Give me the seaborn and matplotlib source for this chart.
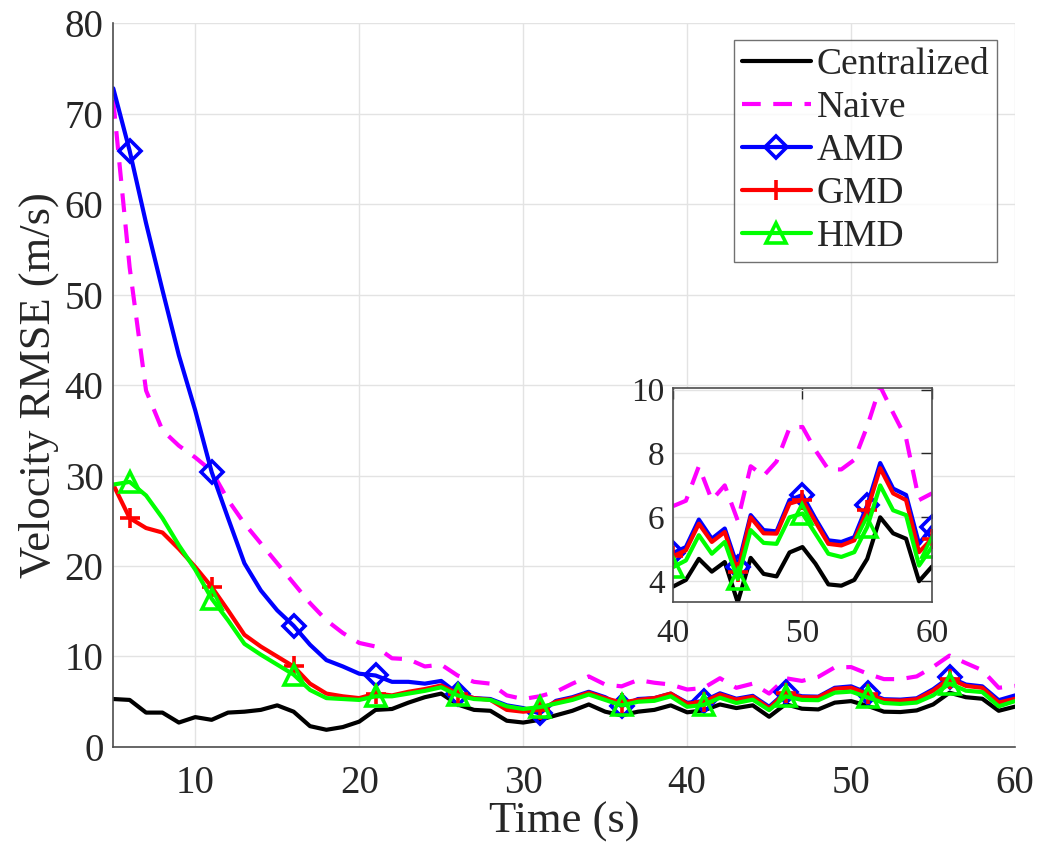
import numpy as np
import pandas as pd
import matplotlib
matplotlib.use('Agg')
import matplotlib.pyplot as plt
import seaborn as sns

# time axis (s)
time_s = list(range(5, 61))

centralized = [5.3, 5.2, 3.8, 3.8, 2.7, 3.3, 3.0, 3.8, 3.9, 4.1, 4.6, 3.9, 2.3, 1.9, 2.2,
               2.8, 4.1, 4.2, 4.9, 5.5, 5.9, 4.7, 4.1, 4.0, 2.9, 2.7, 3.0, 3.5, 4.0, 4.7,
               3.9, 3.5, 3.9, 4.1, 4.6,
               3.83, 4.04, 4.7, 4.3, 4.6, 3.34, 4.73, 4.23, 4.15, 4.9, 5.07, 4.55, 3.9,
               3.86, 4.04, 4.7, 6.0, 5.5, 5.33, 4.0, 4.46]
naive = [71.5, 53.0, 39.4, 35.0, 33.3, 32.0, 30.5, 27.3, 24.7, 22.5, 20.3, 18.1, 15.9, 14.0,
         12.6, 11.5, 11.1, 9.8, 9.7, 8.9, 9.1, 7.9, 7.2, 7.0, 5.7, 5.3, 5.6, 6.1, 7.0, 7.8,
         6.9, 6.7, 7.4, 7.1, 6.9,
         6.35, 6.52, 7.6, 6.54, 7.0, 5.9, 7.6, 7.3, 7.75, 8.8, 8.83, 8.1, 7.5, 7.5, 7.8,
         8.85, 10.1, 9.27, 8.48, 6.54, 6.75]
amd = [72.8, 65.9, 57.9, 50.5, 43.3, 37.2, 30.4, 25.3, 20.3, 17.3, 15.1, 13.4, 11.3, 9.6,
       8.9, 8.1, 7.9, 7.2, 7.2, 7.0, 7.3, 5.9, 5.4, 5.3, 4.6, 4.3, 3.7, 5.1, 5.5, 6.1, 5.5,
       4.5, 5.3, 5.4, 5.9,
       4.88, 5.07, 5.93, 5.33, 5.65, 4.44, 6.07, 5.6, 5.56, 6.54, 6.7, 5.96, 5.28, 5.23,
       5.38, 6.38, 7.7, 6.9, 6.7, 5.17, 5.7]
gmd = [29.0, 25.3, 24.2, 23.7, 21.9, 19.9, 17.7, 15.1, 12.4, 11.1, 10.0, 8.9, 7.0, 5.9, 5.6,
       5.4, 5.9, 5.7, 6.1, 6.4, 6.8, 5.9, 5.4, 5.2, 4.1, 3.9, 4.1, 5.0, 5.4, 6.0, 5.4, 4.9,
       5.2, 5.4, 5.9,
       4.78, 4.97, 5.8, 5.23, 5.54, 4.28, 6.0, 5.5, 5.49, 6.43, 6.55, 5.86, 5.17, 5.12,
       5.28, 6.22, 7.54, 6.75, 6.54, 4.91, 5.33]
hmd = [29.0, 29.3, 27.8, 25.3, 22.3, 19.6, 16.4, 14.0, 11.4, 10.2, 9.1, 8.0, 6.3, 5.4, 5.3,
       5.2, 5.6, 5.6, 5.9, 6.2, 6.6, 5.7, 5.3, 5.2, 4.5, 4.2, 4.4, 4.8, 5.2, 5.8, 5.2, 4.6,
       5.0, 5.1, 5.6,
       4.44, 4.65, 5.44, 4.86, 5.23, 4.07, 5.6, 5.2, 5.17, 6.0, 6.12, 5.49, 4.86, 4.76,
       4.91, 5.7, 7.0, 6.22, 6.07, 4.49, 5.07]

labels = ['Centralized', 'Naive', 'AMD', 'GMD', 'HMD']

df = pd.DataFrame({'t': time_s, 'Centralized': centralized, 'Naive': naive,
                   'AMD': amd, 'GMD': gmd, 'HMD': hmd})

styles = {
    'Centralized': dict(color='black', linestyle='-', marker=None),
    'Naive': dict(color='#ff00ff', linestyle=(0, (4.5, 3)), marker=None),
    'AMD': dict(color='#0000ff', linestyle='-', marker='D'),
    'GMD': dict(color='#ff0000', linestyle='-', marker='+'),
    'HMD': dict(color='#00ff00', linestyle='-', marker='^'),
}
msize = {'D': 11, '+': 15, '^': 15}

sns.set_style('white')
plt.rcParams['font.family'] = ['Liberation Serif', 'DejaVu Serif']

fig = plt.figure(figsize=(10.39, 8.58), dpi=100)
ax = fig.add_axes([0.109, 0.1294, 0.868, 0.8436])
axin = fig.add_axes([0.6477, 0.2984, 0.2493, 0.2494])


def draw(a, d, offset, lw):
    for name in labels:
        st = styles[name]
        kw = dict(color=st['color'], linestyle=st['linestyle'], linewidth=lw)
        if st['marker'] is not None:
            kw.update(marker=st['marker'], markevery=(offset, 5),
                      markersize=msize[st['marker']], markerfacecolor='none',
                      markeredgewidth=2.6, markeredgecolor=st['color'])
        sns.lineplot(data=d, x='t', y=name, ax=a, label=name, **kw)


draw(ax, df, 1, 3.0)
draw(axin, df[df['t'] >= 40], 0, 3.0)

gray = '#262626'
for a, fs in ((ax, 28), (axin, 24)):
    a.grid(True, color='#e3e3e3', linewidth=1.0)
    a.set_axisbelow(True)
    a.tick_params(direction='in', length=8, width=1.0, colors=gray,
                  labelsize=fs, top=False, right=False)
    for s in a.spines.values():
        s.set_color('#4d4d4d')
        s.set_linewidth(1.2)

ax.set_xlim(5, 60)
ax.set_ylim(0, 80)
ax.set_xticks(range(10, 61, 10))
ax.set_yticks(range(0, 81, 10))
ax.spines['top'].set_visible(False)
ax.spines['right'].set_visible(False)
ax.tick_params(axis='x', pad=13)
ax.tick_params(axis='y', pad=7)
ax.set_xlabel('Time (s)', fontsize=32, color=gray, labelpad=0)
ax.set_ylabel('Velocity RMSE (m/s)', fontsize=32, color=gray, labelpad=4)

axin.set_xlim(40, 60)
axin.set_ylim(3.35, 10.05)
axin.set_xticks([40, 50, 60])
axin.set_yticks([4, 6, 8, 10])
axin.tick_params(axis='x', pad=12)
axin.tick_params(axis='y', pad=6)
axin.tick_params(top=True, right=True, direction='in')
axin.set_xlabel('')
axin.set_ylabel('')
if axin.get_legend() is not None:
    axin.get_legend().remove()

leg = ax.legend(loc='upper right', bbox_to_anchor=(0.9596, 0.9534),
                bbox_transform=fig.transFigure, fontsize=27, frameon=True,
                fancybox=False, edgecolor='#4d4d4d', handlelength=1.85,
                handletextpad=0.15, labelspacing=0.23, borderpad=0.2,
                borderaxespad=0.0)
leg.get_frame().set_linewidth(1.0)

fig.savefig('out.png', dpi=100)
